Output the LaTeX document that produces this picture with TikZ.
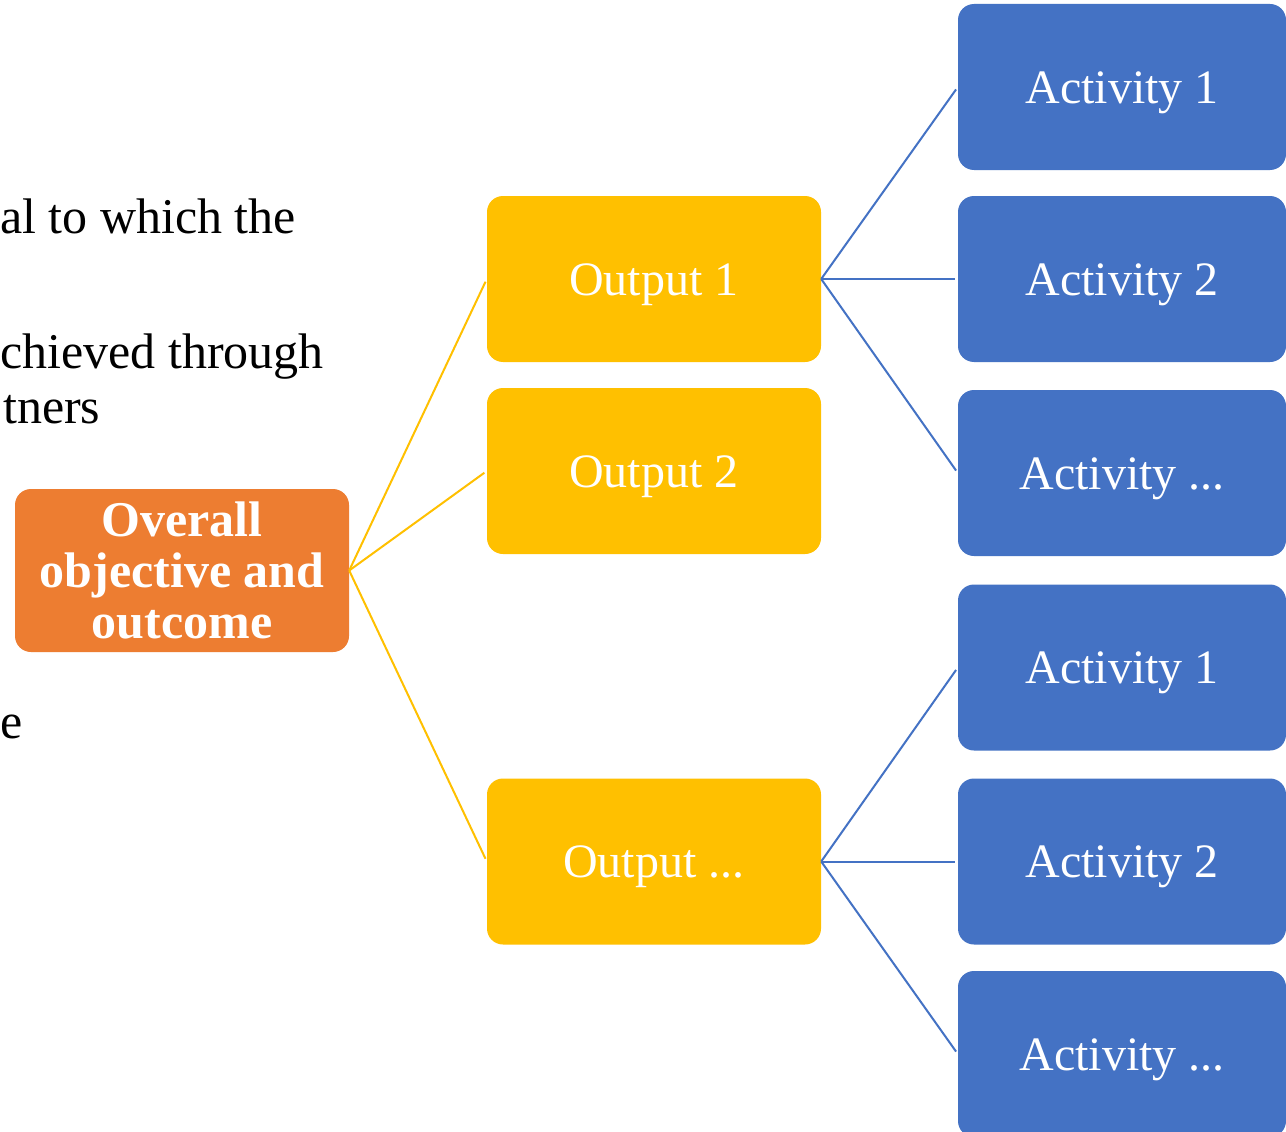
\documentclass[tikz,border=0pt]{standalone}
\usepackage{fontspec}
\setmainfont{Liberation Serif}
\definecolor{orangeC}{HTML}{ED7D31}
\definecolor{yellowC}{HTML}{FFC000}
\definecolor{blueC}{HTML}{4472C4}
\tikzset{
  box/.style={rectangle, rounded corners=16pt, text=white, align=center, inner sep=0pt,
    font=\fontsize{48}{51}\selectfont},
  topbox/.style={box, fill=orangeC, minimum width=334pt, minimum height=163pt, font=\bfseries\fontsize{50}{51}\selectfont},
  outbox/.style={box, fill=yellowC, minimum width=334pt, minimum height=166pt, text height=36pt, text depth=4pt},
  actbox/.style={box, fill=blueC, minimum width=328pt, minimum height=166pt, text height=36pt, text depth=4pt},
  yline/.style={draw=yellowC, line width=2pt, shorten >=3pt},
  bline/.style={draw=blueC, line width=2pt, shorten >=3pt},
  frag/.style={anchor=base west, inner sep=0pt, text=black, font=\fontsize{50}{51}\selectfont}
}
\begin{document}
\begin{tikzpicture}[x=1pt,y=-1pt]
\useasboundingbox (0,0) rectangle (1286,1132);
\fill[white] (0,0) rectangle (1286,1132);
\begin{scope}
\clip (0,0) rectangle (1286,1132);
% left text fragments
\node[frag] (t1) at (0,233) {al to which the};
\node[frag] (t2) at (0,368) {chieved through};
\node[frag] (t3) at (3,423) {tners};
\node[frag] (t4) at (0,738) {e};
% nodes
\node[topbox] (ov) at (182,570.5) {Overall\\objective and\\outcome};
\node[outbox] (o1) at (654,279) {Output 1};
\node[outbox] (o2) at (654,471) {Output 2};
\node[outbox] (o3) at (654,861.5) {Output ...};
\node[actbox] (a1) at (1122,87) {Activity 1};
\node[actbox] (a2) at (1122,279) {Activity 2};
\node[actbox] (a3) at (1122,473) {Activity ...};
\node[actbox] (a4) at (1122,667.5) {Activity 1};
\node[actbox] (a5) at (1122,861.5) {Activity 2};
\node[actbox] (a6) at (1122,1054) {Activity ...};
% connectors
\draw[yline] (ov.east) -- (o1.west);
\draw[yline] (ov.east) -- (o2.west);
\draw[yline] (ov.east) -- (o3.west);
\draw[bline] (o1.east) -- (a1.west);
\draw[bline] (o1.east) -- (a2.west);
\draw[bline] (o1.east) -- (a3.west);
\draw[bline] (o3.east) -- (a4.west);
\draw[bline] (o3.east) -- (a5.west);
\draw[bline] (o3.east) -- (a6.west);
\end{scope}
\end{tikzpicture}
\end{document}
